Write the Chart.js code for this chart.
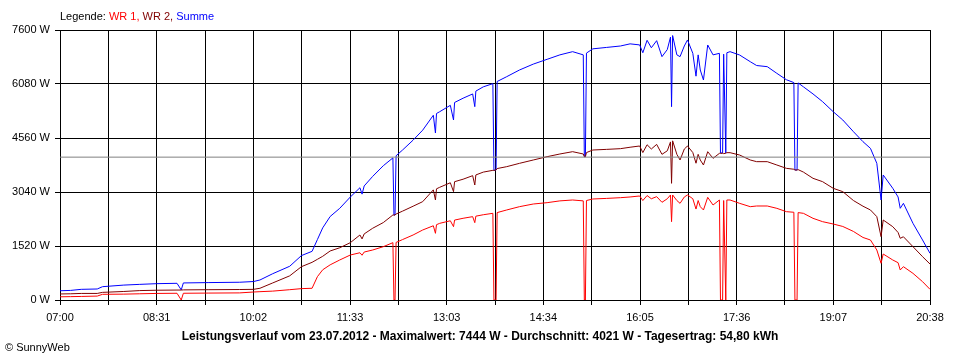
<!DOCTYPE html>
<html>
<head>
<meta charset="utf-8">
<script src="https://cdn.jsdelivr.net/npm/chart.js@4/dist/chart.umd.min.js"></script>
<style>
	body { margin: 0; background: #fff; }
	#wrap { position: relative; width: 960px; height: 360px; font-family: "Liberation Sans", Arial, sans-serif; font-size: 11px; color: #000; }
	#wrap div { position: absolute; line-height: 13px; white-space: nowrap; }
	#legend { left: 60px; top: 10px; }
	#title { left: 0; width: 960px; top: 330px; text-align: center; font-weight: bold; font-size: 12px; }
	#copy { left: 5px; top: 341px; }
</style>
</head>
<body>
<div id="wrap">
	<canvas id="chart" width="960" height="360"></canvas>
	<div id="legend">Legende: <span style="color:#ff0000">WR 1,</span> <span style="color:#800000">WR 2,</span> <span style="color:#0000ff">Summe</span></div>
	<div id="title">Leistungsverlauf vom 23.07.2012 - Maximalwert: 7444 W - Durchschnitt: 4021 W - Tagesertrag: 54,80 kWh</div>
	<div id="copy">© SunnyWeb</div>
</div>
<script>
// Messzeitpunkte
const times = [
	"07:00","07:10","07:20","07:35","07:40","08:00","08:15","08:31","08:50","08:54",
	"08:56","09:20","09:49","10:02","10:08","10:20","10:36","10:47","10:57","11:02",
	"11:07","11:14","11:23","11:33","11:42","11:44","11:46","11:54","12:04","12:13","12:14","12:15",
	"12:16","12:22","12:32","12:41","12:51","12:53","12:54","12:57","13:07","13:10","13:11","13:19","13:28","13:30","13:31","13:38",
	"13:47","13:48","13:50","13:51","14:00","14:12","14:25","14:38","14:50","15:02",
	"15:12","15:13","15:14","15:15","15:21","15:34","15:47","15:56","16:05","16:08",
	"16:12","16:16","16:21","16:26","16:31","16:34","16:35","16:36","16:40","16:43",
	"16:47","16:50","16:55","16:58","17:00","17:02","17:05","17:09","17:14","17:20","17:21","17:23",
	"17:24","17:26","17:27","17:30","17:39","17:49","17:55","18:05","18:14","18:23",
	"18:30","18:31","18:33","18:34","18:39","18:48","18:57","19:07","19:16","19:26",
	"19:35","19:42","19:48","19:52","19:54","20:03","20:08","20:10","20:13","20:22",
	"20:31","20:38"
];

// Wechselrichter 1 (W)
const wr1 = [
	90,95,100,110,160,165,175,185,190,0,
	190,195,200,225,234,250,290,320,330,656,
	850,990,1126,1267,1330,1260,1350,1407,1501,1614,0,0,
	1620,1700,1830,1970,2090,1877,2120,2158,2230,2064,2250,2300,2346,2177,2360,2400,
	2440,0,0,2460,2534,2627,2702,2740,2790,2815,
	2790,0,0,2800,2843,2860,2880,2900,2928,2800,
	2940,2850,2909,2750,2850,2956,2205,2956,2800,2721,
	2900,2956,2850,2560,2800,2627,2534,2890,2674,2815,0,0,
	2800,0,2815,2815,2721,2627,2646,2646,2580,2486,
	2470,0,0,2460,2440,2299,2205,2139,2070,1930,
	1760,1689,1407,1033,1295,1126,1050,845,938,750,
	516,300
];

// Wechselrichter 2 (W)
const wr2 = [
	170,175,185,185,215,240,265,275,280,280,
	285,290,295,300,330,480,680,938,1060,1145,
	1230,1380,1470,1614,1830,1720,1860,2020,2180,2393,2393,2393,
	2420,2500,2640,2768,3100,2815,3130,3172,3300,3050,3330,3400,3500,3237,3520,3600,
	3650,3650,3659,3700,3753,3847,3941,4034,4110,4175,
	4110,4034,4034,4150,4222,4240,4260,4300,4335,4150,
	4370,4250,4380,4100,4200,4450,3284,4480,4100,3941,
	4250,4335,4150,3850,4100,3941,3800,4175,3988,4128,4128,4130,
	4120,4130,4147,4147,4081,3941,3894,3894,3800,3706,
	3680,3659,3659,3670,3600,3425,3331,3144,3050,2800,
	2640,2534,2346,1783,2252,2064,1900,1736,1780,1501,
	1220,1013
];

// Summe (W)
const summe = [
	260,270,300,310,375,420,440,460,470,285,
	480,490,500,520,563,740,950,1250,1370,1700,
	2030,2350,2580,2900,3160,2980,3210,3480,3780,4000,2390,2393,
	4060,4220,4500,4780,5200,4700,5250,5300,5480,5067,5560,5680,5800,5442,5880,6000,
	6090,3650,3660,6150,6286,6474,6640,6775,6900,6990,
	6900,4034,4034,6950,7070,7110,7150,7210,7180,6960,
	7310,7100,7300,6850,7050,7400,5442,7444,6900,6850,
	7150,7319,6943,6300,6900,6474,6193,7178,6900,6943,4138,4138,
	6920,4138,6960,6990,6896,6708,6600,6568,6380,6200,
	6120,3659,3659,6110,6000,5800,5583,5300,5067,4738,
	4456,4269,3847,2815,3519,3144,2900,2581,2721,2158,
	1689,1314
];

const durchschnitt = 4021;
const yTicks = [0, 1520, 3040, 4560, 6080, 7600];
const timeLabels = ["07:00","08:31","10:02","11:33","13:03","14:34","16:05","17:36","19:07","20:38"];

function toMin(s) {
	const p = s.split(":");
	return parseInt(p[0], 10) * 60 + parseInt(p[1], 10);
}

const tStart = toMin(timeLabels[0]);
const tEnd = toMin(timeLabels[timeLabels.length - 1]);

function series(values) {
	return values.map((v, i) => ({ x: toMin(times[i]), y: v }));
}

Chart.defaults.font.family = '"Liberation Sans", Arial, sans-serif';
Chart.defaults.font.size = 11;
Chart.defaults.color = "#000";

new Chart(document.getElementById("chart").getContext("2d"), {
	type: "line",
	data: {
		datasets: [
			{ label: "WR 1", data: series(wr1), borderColor: "#ff0000" },
			{ label: "WR 2", data: series(wr2), borderColor: "#800000" },
			{ label: "Summe", data: series(summe), borderColor: "#0000ff" },
			{ label: "Durchschnitt", data: [{ x: tStart, y: durchschnitt }, { x: tEnd, y: durchschnitt }], borderColor: "#808080", order: -1 },
		],
	},
	options: {
		responsive: false,
		animation: false,
		layout: { padding: { top: 30, right: 30, left: 0, bottom: 0 } },
		elements: {
			point: { radius: 0 },
			line: { borderWidth: 1, tension: 0 },
		},
		plugins: { legend: { display: false }, tooltip: { enabled: false } },
		scales: {
			x: {
				type: "linear",
				min: tStart,
				max: tEnd,
				afterBuildTicks: (axis) => {
					axis.ticks = [];
					for (let i = 0; i <= 18; i++) {
						axis.ticks.push({ value: tStart + i * (tEnd - tStart) / 18 });
					}
				},
				afterFit: (scale) => { scale.height = 60; },
				ticks: {
					autoSkip: false,
					maxRotation: 0,
					padding: 6,
					callback: (value, index) => (index % 2 === 0 ? timeLabels[index / 2] : ""),
				},
				grid: { color: "#000", lineWidth: 1, tickLength: 5 },
				border: { color: "#000" },
			},
			y: {
				min: 0,
				max: 7600,
				afterBuildTicks: (axis) => {
					axis.ticks = yTicks.map((v) => ({ value: v }));
				},
				afterFit: (scale) => { scale.width = 60; },
				ticks: {
					padding: 5,
					callback: (value) => value + " W",
				},
				grid: { color: "#000", lineWidth: 1, tickLength: 5 },
				border: { color: "#000" },
			},
		},
	},
});
</script>
</body>
</html>
